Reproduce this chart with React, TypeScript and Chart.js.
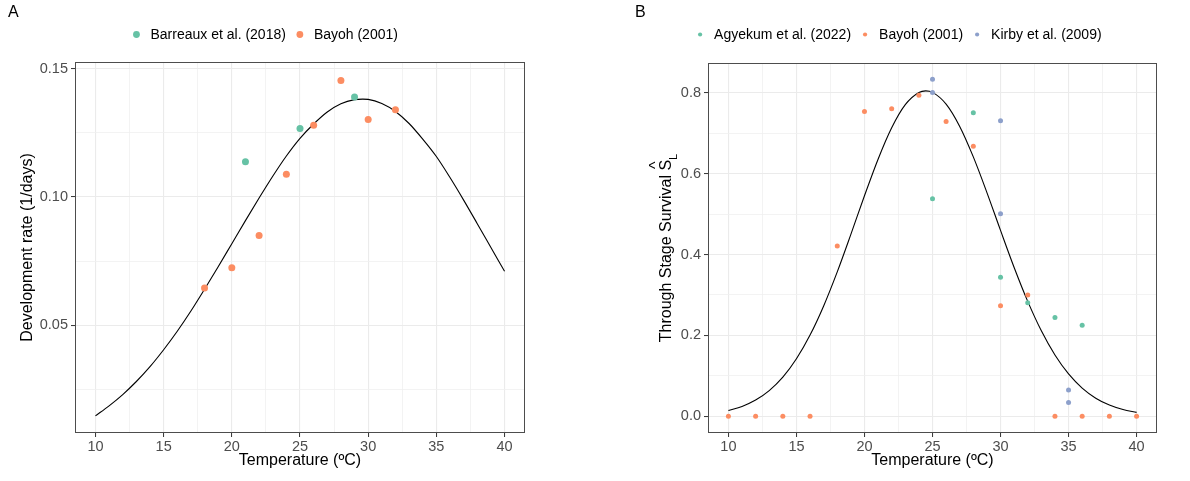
import React, { useEffect, useRef } from "react";
import { Chart, registerables } from "chart.js";

Chart.register(...registerables);

const FONT = '"Liberation Sans", Arial, Helvetica, sans-serif';
const GREEN = "#66C2A5";
const ORANGE = "#FC8D62";
const BLUE = "#8DA0CB";

// ---------- Panel A : development rate ----------
const barreauxTemp = [21, 25, 29];
const barreauxRate = [0.1138, 0.1267, 0.139];
const bayohDevTemp = [18, 20, 22, 24, 26, 28, 30, 32];
const bayohDevRate = [0.0645, 0.0724, 0.085, 0.1089, 0.128, 0.1455, 0.1303, 0.1341];
const devCurveTemp = [10, 11, 12, 13, 14, 15, 16, 17, 18, 19, 20, 21, 22, 23, 24, 25, 26, 27, 28, 29, 29.6, 30, 31, 32, 33, 34, 35, 36, 37, 38, 39, 40];
const devCurveRate = [0.0146, 0.0185, 0.0229, 0.028, 0.0338, 0.0404, 0.0476, 0.0555, 0.064, 0.0728, 0.0818, 0.0908, 0.0996, 0.1081, 0.116, 0.1229, 0.1285, 0.1332, 0.1364, 0.138, 0.1382, 0.1381, 0.1365, 0.1334, 0.1287, 0.1226, 0.1158, 0.1076, 0.0988, 0.0896, 0.0803, 0.071];
const devYTicks = [0.025, 0.05, 0.075, 0.1, 0.125, 0.15];

// ---------- Panel B : through stage survival ----------
const agyekumTemp = [25, 28, 30, 32, 34, 36];
const agyekumSurv = [0.538, 0.751, 0.344, 0.281, 0.244, 0.225];
const bayohSurvTemp = [10, 12, 14, 16, 18, 20, 22, 24, 26, 28, 30, 32, 34, 36, 38, 40];
const bayohSurv = [0, 0, 0, 0, 0.421, 0.754, 0.761, 0.794, 0.729, 0.668, 0.273, 0.3, 0, 0, 0, 0];
const kirbyTemp = [25, 25, 30, 30, 35, 35];
const kirbySurv = [0.834, 0.801, 0.731, 0.501, 0.065, 0.034];
const survCurveTemp = [10, 11, 12, 13, 14, 15, 16, 17, 18, 19, 20, 21, 22, 23, 24, 24.5, 25, 26, 27, 28, 29, 30, 31, 32, 33, 34, 35, 36, 37, 38, 39, 40];
const survCurveVal = [0.0141, 0.0242, 0.0399, 0.0633, 0.0966, 0.142, 0.2007, 0.2729, 0.3572, 0.45, 0.5454, 0.636, 0.7138, 0.771, 0.8011, 0.805, 0.8013, 0.7722, 0.717, 0.6416, 0.5533, 0.4597, 0.3681, 0.2841, 0.2112, 0.1513, 0.1045, 0.0696, 0.0446, 0.0275, 0.0164, 0.0094];
const survYTicks = [0, 0.1, 0.2, 0.3, 0.4, 0.5, 0.6, 0.7, 0.8];

const xTicks = [10, 12.5, 15, 17.5, 20, 22.5, 25, 27.5, 30, 32.5, 35, 37.5, 40];

const toXY = (xs: number[], ys: number[]) => xs.map((x, i) => ({ x, y: ys[i] }));
const isMult = (v: number, step: number) => Math.abs(v / step - Math.round(v / step)) < 1e-6;

const ggPlugin = {
  id: "gg",
  afterDatasetsDraw(chart: any) {
    const { ctx, chartArea: a } = chart;
    ctx.save();
    ctx.strokeStyle = "#4d4d4d";
    ctx.lineWidth = 1;
    const l = Math.round(a.left) + 0.5;
    const t = Math.round(a.top) + 0.5;
    const r = Math.round(a.right) - 0.5;
    const b = Math.round(a.bottom) - 0.5;
    ctx.strokeRect(l, t, r - l, b - t);
    ctx.restore();
  },
  afterDraw(chart: any, _args: any, o: any) {
    const ctx = chart.ctx;
    ctx.save();
    // legend
    ctx.font = `${o.fontSize}px ${FONT}`;
    const items = chart.data.datasets.filter((d: any) => d.inLegend);
    const gapDot = 14;
    const gapItem = 14;
    const widths = items.map((d: any) => ctx.measureText(d.label).width);
    let total = o.r;
    widths.forEach((w: number, i: number) => {
      total += gapDot + w;
      if (i < widths.length - 1) total += gapItem;
    });
    let x = o.cx - total / 2 + o.r;
    ctx.textBaseline = "middle";
    ctx.textAlign = "left";
    items.forEach((d: any, i: number) => {
      ctx.fillStyle = d.backgroundColor;
      ctx.beginPath();
      ctx.arc(x, o.cy, o.r, 0, Math.PI * 2);
      ctx.fill();
      ctx.fillStyle = "#000";
      ctx.fillText(d.label, x + gapDot, o.cy + 1);
      x += gapDot + widths[i] + gapItem;
    });
    // panel tag
    ctx.font = `16px ${FONT}`;
    ctx.fillStyle = "#000";
    ctx.fillText(o.tag, o.tagX, o.tagY);
    // custom y title with hat and subscript
    if (o.yTitle) {
      const t = o.yTitle;
      const a = chart.chartArea;
      ctx.translate(t.x, (a.top + a.bottom) / 2);
      ctx.rotate(-Math.PI / 2);
      ctx.textBaseline = "alphabetic";
      ctx.font = `16px ${FONT}`;
      const wMain = ctx.measureText(t.text).width;
      const wS = ctx.measureText(t.sym).width;
      ctx.font = `11px ${FONT}`;
      const wL = ctx.measureText(t.sub).width;
      const tot = wMain + wS + wL;
      const x0 = -tot / 2;
      ctx.font = `16px ${FONT}`;
      ctx.fillText(t.text, x0, 5.7);
      ctx.fillText(t.sym, x0 + wMain, 5.7);
      ctx.font = `16px ${FONT}`;
      ctx.textAlign = "center";
      ctx.fillText("^", x0 + wMain + wS / 2, -4);
      ctx.textAlign = "left";
      ctx.font = `11px ${FONT}`;
      ctx.fillText(t.sub, x0 + wMain + wS, 12);
    }
    ctx.restore();
  },
};

function makeScales(yMin: number, yMax: number, yTicks: number[], yStep: number, dec: number, yWidth: number, yTitle: string | null) {
  const gridColor = (major: boolean) => (major ? "#EBEBEB" : "#F0F0F0");
  return {
    x: {
      type: "linear",
      min: 8.5,
      max: 41.5,
      afterBuildTicks: (axis: any) => {
        axis.ticks = xTicks.map((v) => ({ value: v }));
      },
      afterFit: (s: any) => {
        s.height = 48;
      },
      border: { display: false },
      grid: {
        color: (c: any) => gridColor(c.tick ? isMult(c.tick.value, 5) : true),
        lineWidth: (c: any) => (c.tick && isMult(c.tick.value, 5) ? 1.1 : 0.8),
        tickColor: (c: any) => (c.tick && isMult(c.tick.value, 5) ? "#333333" : "rgba(0,0,0,0)"),
        tickLength: 4,
        tickWidth: 1,
      },
      ticks: {
        autoSkip: false,
        maxRotation: 0,
        padding: 1,
        color: "#4D4D4D",
        font: { family: FONT, size: 14.5 },
        callback: (v: any) => (isMult(Number(v), 5) ? String(v) : ""),
      },
      title: {
        display: true,
        text: "Temperature (ºC)",
        color: "#000",
        font: { family: FONT, size: 16 },
        padding: { top: 0, bottom: 11 },
      },
    },
    y: {
      type: "linear",
      min: yMin,
      max: yMax,
      afterBuildTicks: (axis: any) => {
        axis.ticks = yTicks.map((v) => ({ value: v }));
      },
      afterFit: (s: any) => {
        s.width = yWidth;
      },
      border: { display: false },
      grid: {
        color: (c: any) => gridColor(c.tick ? isMult(c.tick.value, yStep) : true),
        lineWidth: (c: any) => (c.tick && isMult(c.tick.value, yStep) ? 1.1 : 0.8),
        tickColor: (c: any) => (c.tick && isMult(c.tick.value, yStep) ? "#333333" : "rgba(0,0,0,0)"),
        tickLength: 4,
        tickWidth: 1,
      },
      ticks: {
        autoSkip: false,
        padding: 3,
        color: "#4D4D4D",
        font: { family: FONT, size: 14.5 },
        callback: (v: any) => (isMult(Number(v), yStep) ? Number(v).toFixed(dec) : ""),
      },
      title: yTitle
        ? {
            display: true,
            text: yTitle,
            color: "#000",
            font: { family: FONT, size: 16 },
            padding: { top: 18, bottom: 0 },
          }
        : { display: false },
    },
  };
}

const pointDs = (label: string, xs: number[], ys: number[], color: string, r: number) => ({
  label,
  data: toXY(xs, ys),
  backgroundColor: color,
  borderColor: color,
  borderWidth: 0,
  pointRadius: r,
  pointHoverRadius: r,
  inLegend: true,
  order: 1,
});

const curveDs = (xs: number[], ys: number[]) => ({
  label: "fit",
  data: toXY(xs, ys),
  showLine: true,
  pointRadius: 0,
  pointHoverRadius: 0,
  borderColor: "#000",
  backgroundColor: "rgba(0,0,0,0)",
  borderWidth: 1.1,
  cubicInterpolationMode: "monotone",
  inLegend: false,
  order: 10,
});

export default function App() {
  const refA = useRef<HTMLCanvasElement | null>(null);
  const refB = useRef<HTMLCanvasElement | null>(null);

  useEffect(() => {
    Chart.defaults.font.family = FONT;
    const common = {
      responsive: false,
      animation: false,
      devicePixelRatio: 1,
      events: [],
    };
    const chartA = new Chart(refA.current as HTMLCanvasElement, {
      type: "scatter",
      data: {
        datasets: [
          pointDs("Barreaux et al. (2018)", barreauxTemp, barreauxRate, GREEN, 3.5),
          pointDs("Bayoh (2001)", bayohDevTemp, bayohDevRate, ORANGE, 3.5),
          curveDs(devCurveTemp, devCurveRate),
        ],
      } as any,
      options: {
        ...common,
        layout: { padding: { top: 62, right: 70, bottom: 0, left: 0 } },
        plugins: {
          legend: { display: false },
          tooltip: { enabled: false },
          gg: { cx: 265.5, cy: 34.5, r: 3.4, fontSize: 14, tag: "A", tagX: 8, tagY: 13 },
        },
        scales: makeScales(0.0079, 0.1527, devYTicks, 0.05, 2, 75, "Development rate (1/days)"),
      } as any,
      plugins: [ggPlugin],
    });
    const chartB = new Chart(refB.current as HTMLCanvasElement, {
      type: "scatter",
      data: {
        datasets: [
          pointDs("Agyekum et al. (2022)", agyekumTemp, agyekumSurv, GREEN, 2.5),
          pointDs("Bayoh (2001)", bayohSurvTemp, bayohSurv, ORANGE, 2.5),
          pointDs("Kirby et al. (2009)", kirbyTemp, kirbySurv, BLUE, 2.5),
          curveDs(survCurveTemp, survCurveVal),
        ],
      } as any,
      options: {
        ...common,
        layout: { padding: { top: 63, right: 33, bottom: 0, left: 0 } },
        plugins: {
          legend: { display: false },
          tooltip: { enabled: false },
          gg: {
            cx: 304.8,
            cy: 34.5,
            r: 2.1,
            fontSize: 14,
            tag: "B",
            tagX: 40,
            tagY: 13,
            yTitle: { x: 70, text: "Through Stage Survival ", sym: "S", sub: "L" },
          },
        },
        scales: makeScales(-0.0416, 0.874, survYTicks, 0.2, 1, 113, null),
      } as any,
      plugins: [ggPlugin],
    });
    return () => {
      chartA.destroy();
      chartB.destroy();
    };
  }, []);

  return (
    <div style={{ position: "fixed", left: 0, top: 0, width: 1190, height: 481, background: "#fff" }}>
      <canvas ref={refA} width={595} height={481} style={{ position: "absolute", left: 0, top: 0, width: 595, height: 481 }} />
      <canvas ref={refB} width={595} height={481} style={{ position: "absolute", left: 595, top: 0, width: 595, height: 481 }} />
    </div>
  );
}
